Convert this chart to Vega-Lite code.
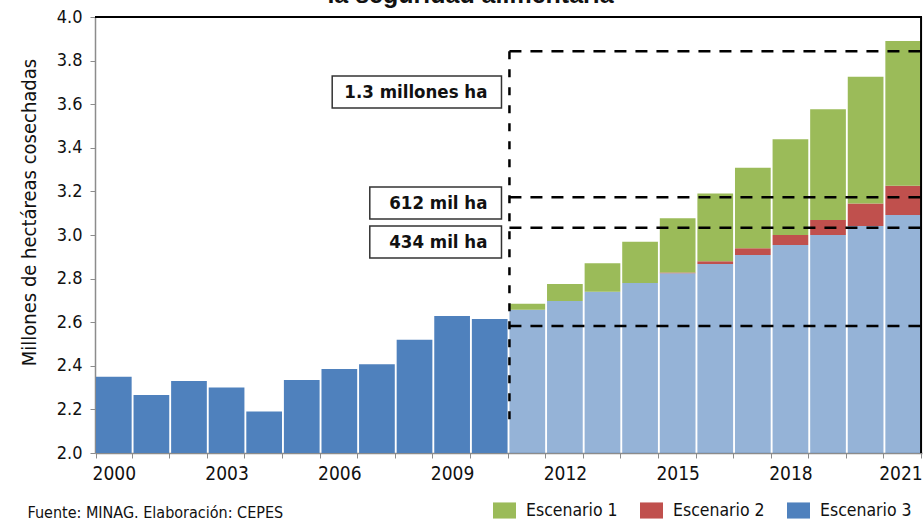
{
  "$schema": "https://vega.github.io/schema/vega-lite/v6.json",
  "width": 827,
  "height": 436,
  "autosize": {"type": "none"},
  "padding": {"left": 95, "top": 17, "right": 1, "bottom": 70},
  "background": "white",
  "title": {
    "text": "la seguridad alimentaria",
    "font": "Liberation Sans",
    "fontSize": 25,
    "fontWeight": "bold",
    "color": "#111",
    "anchor": "middle",
    "baseline": "alphabetic",
    "offset": 2,
    "dx": -38,
    "dy": 22
  },
  "config": {
    "view": {"stroke": null},
    "font": "DejaVu Sans Condensed",
    "axis": {"grid": false, "labelFont": "DejaVu Sans Condensed", "titleFont": "DejaVu Sans Condensed", "labelColor": "#111", "titleColor": "#111"}
  },
  "datasets": {
    "areas": [
      {"anio": 2000, "serie": "Escenario 3", "valor": 2.35},
      {"anio": 2001, "serie": "Escenario 3", "valor": 2.266},
      {"anio": 2002, "serie": "Escenario 3", "valor": 2.33},
      {"anio": 2003, "serie": "Escenario 3", "valor": 2.30},
      {"anio": 2004, "serie": "Escenario 3", "valor": 2.19},
      {"anio": 2005, "serie": "Escenario 3", "valor": 2.335},
      {"anio": 2006, "serie": "Escenario 3", "valor": 2.385},
      {"anio": 2007, "serie": "Escenario 3", "valor": 2.407},
      {"anio": 2008, "serie": "Escenario 3", "valor": 2.52},
      {"anio": 2009, "serie": "Escenario 3", "valor": 2.628},
      {"anio": 2010, "serie": "Escenario 3", "valor": 2.615},
      {"anio": 2011, "serie": "Escenario 3", "valor": 2.657},
      {"anio": 2011, "serie": "Escenario 2", "valor": 0},
      {"anio": 2011, "serie": "Escenario 1", "valor": 0.028},
      {"anio": 2012, "serie": "Escenario 3", "valor": 2.697},
      {"anio": 2012, "serie": "Escenario 2", "valor": 0},
      {"anio": 2012, "serie": "Escenario 1", "valor": 0.078},
      {"anio": 2013, "serie": "Escenario 3", "valor": 2.74},
      {"anio": 2013, "serie": "Escenario 2", "valor": 0},
      {"anio": 2013, "serie": "Escenario 1", "valor": 0.13},
      {"anio": 2014, "serie": "Escenario 3", "valor": 2.78},
      {"anio": 2014, "serie": "Escenario 2", "valor": 0},
      {"anio": 2014, "serie": "Escenario 1", "valor": 0.189},
      {"anio": 2015, "serie": "Escenario 3", "valor": 2.824},
      {"anio": 2015, "serie": "Escenario 2", "valor": 0.004},
      {"anio": 2015, "serie": "Escenario 1", "valor": 0.249},
      {"anio": 2016, "serie": "Escenario 3", "valor": 2.867},
      {"anio": 2016, "serie": "Escenario 2", "valor": 0.013},
      {"anio": 2016, "serie": "Escenario 1", "valor": 0.31},
      {"anio": 2017, "serie": "Escenario 3", "valor": 2.908},
      {"anio": 2017, "serie": "Escenario 2", "valor": 0.031},
      {"anio": 2017, "serie": "Escenario 1", "valor": 0.37},
      {"anio": 2018, "serie": "Escenario 3", "valor": 2.954},
      {"anio": 2018, "serie": "Escenario 2", "valor": 0.046},
      {"anio": 2018, "serie": "Escenario 1", "valor": 0.439},
      {"anio": 2019, "serie": "Escenario 3", "valor": 3.0},
      {"anio": 2019, "serie": "Escenario 2", "valor": 0.069},
      {"anio": 2019, "serie": "Escenario 1", "valor": 0.508},
      {"anio": 2020, "serie": "Escenario 3", "valor": 3.041},
      {"anio": 2020, "serie": "Escenario 2", "valor": 0.104},
      {"anio": 2020, "serie": "Escenario 1", "valor": 0.581},
      {"anio": 2021, "serie": "Escenario 3", "valor": 3.092},
      {"anio": 2021, "serie": "Escenario 2", "valor": 0.134},
      {"anio": 2021, "serie": "Escenario 1", "valor": 0.664}
    ],
    "niveles": [
      {"nivel": 3.843},
      {"nivel": 3.173},
      {"nivel": 3.033},
      {"nivel": 2.583}
    ],
    "notas": [
      {"etiqueta": "1.3 millones ha", "desde": 2006, "centro": 3.656, "inf": 3.583, "sup": 3.729},
      {"etiqueta": "612 mil ha", "desde": 2007, "centro": 3.147, "inf": 3.073, "sup": 3.220},
      {"etiqueta": "434 mil ha", "desde": 2007, "centro": 2.968, "inf": 2.894, "sup": 3.041}
    ]
  },
  "layer": [
    {
      "data": {"name": "areas"},
      "mark": {"type": "bar", "clip": true},
      "encoding": {
        "x": {
          "field": "anio", "type": "ordinal",
          "scale": {"paddingInner": 0.05, "paddingOuter": 0.025},
          "axis": {
            "title": "Fuente: MINAG. Elaboración: CEPES",
            "titleFontSize": 16, "titleFontWeight": "normal",
            "titleAnchor": "start", "titleAlign": "left", "titleBaseline": "alphabetic",
            "titleX": -68, "titleY": 64,
            "labelAngle": 0, "labelFontSize": 19, "labelPadding": 6,
            "labelExpr": "(datum.value - 2000) % 3 == 0 ? datum.label : ''",
            "labelAlign": {"condition": {"test": "datum.value == 2021", "value": "right"}, "value": "center"},
            "labelOffset": {"condition": {"test": "datum.value == 2021", "value": 19}, "value": 0},
            "tickBand": "extent", "tickSize": 5,
            "domainColor": "#8c8c8c", "tickColor": "#8c8c8c", "domainWidth": 1.5
          }
        },
        "y": {
          "field": "valor", "type": "quantitative", "stack": "zero",
          "scale": {"domain": [2, 4], "zero": false, "nice": false},
          "axis": {
            "title": "Millones de hectáreas cosechadas",
            "titleFontSize": 20, "titleFontWeight": "normal",
            "titleAngle": -90, "titleBaseline": "alphabetic", "titleAlign": "center",
            "titleX": -60, "titleY": 195,
            "values": [2.0, 2.2, 2.4, 2.6, 2.8, 3.0, 3.2, 3.4, 3.6, 3.8, 4.0],
            "format": ".1f", "labelFontSize": 18, "labelPadding": 8, "tickSize": 5,
            "domainColor": "#8c8c8c", "tickColor": "#8c8c8c", "domainWidth": 1.5
          }
        },
        "color": {
          "field": "serie", "type": "nominal",
          "scale": {"domain": ["Escenario 1", "Escenario 2", "Escenario 3"], "range": ["#9BBB59", "#C0504D", "#4F81BD"]},
          "legend": {
            "title": null, "orient": "none", "direction": "horizontal",
            "legendX": 398, "legendY": 482, "padding": 0,
            "symbolType": "M-1,-0.7H1V0.7H-1Z", "symbolSize": 529, "symbolStrokeWidth": 0, "symbolOpacity": 1,
            "labelFont": "DejaVu Sans Condensed", "labelFontSize": 17.5, "labelColor": "#111",
            "labelOffset": 10, "columnPadding": 22
          }
        },
        "order": {"field": "serie", "sort": "descending"},
        "opacity": {
          "condition": {"test": "datum.serie === 'Escenario 3' && datum.anio >= 2011", "value": 0.6},
          "value": 1
        }
      }
    },
    {
      "data": {"name": "niveles"},
      "mark": {"type": "rule", "color": "#000", "strokeWidth": 2.5, "strokeDash": [12, 9]},
      "encoding": {
        "y": {"field": "nivel", "type": "quantitative"},
        "x": {"datum": 2011, "type": "ordinal", "bandPosition": 0},
        "x2": {"datum": 2021, "bandPosition": 1}
      }
    },
    {
      "data": {"values": [{"arriba": 3.843, "abajo": 2.138}]},
      "mark": {"type": "rule", "color": "#000", "strokeWidth": 2.5, "strokeDash": [8, 10]},
      "encoding": {
        "x": {"datum": 2011, "type": "ordinal", "bandPosition": 0},
        "y": {"field": "arriba", "type": "quantitative"},
        "y2": {"field": "abajo"}
      }
    },
    {
      "data": {"values": [{"tope": 4.0}]},
      "mark": {"type": "rule", "color": "#000", "strokeWidth": 2},
      "encoding": {"y": {"field": "tope", "type": "quantitative"}}
    },
    {
      "data": {"values": [{"fin": 2021}]},
      "mark": {"type": "rule", "color": "#000", "strokeWidth": 2},
      "encoding": {"x": {"field": "fin", "type": "ordinal", "bandPosition": 1}}
    },
    {
      "data": {"name": "notas"},
      "mark": {"type": "rect", "fill": "white", "stroke": "#333", "strokeWidth": 1.5},
      "encoding": {
        "x": {"field": "desde", "type": "ordinal", "bandPosition": 0.3},
        "x2": {"datum": 2010, "bandPosition": 0.83},
        "y": {"field": "sup", "type": "quantitative"},
        "y2": {"field": "inf"}
      }
    },
    {
      "data": {"name": "notas"},
      "mark": {"type": "text", "align": "right", "baseline": "middle", "dx": -22, "font": "DejaVu Sans Condensed", "fontSize": 18.5, "fontWeight": "bold", "color": "#111"},
      "encoding": {
        "x": {"datum": 2011, "type": "ordinal", "bandPosition": 0},
        "y": {"field": "centro", "type": "quantitative"},
        "text": {"field": "etiqueta"}
      }
    }
  ]
}
